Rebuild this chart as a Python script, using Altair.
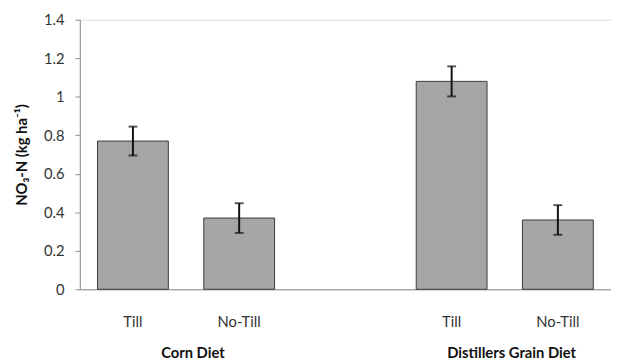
import altair as alt
import pandas as pd

# --- data ---
slots = ["c_till", "c_notill", "gap", "d_till", "d_notill"]
slot_labels = ["Till", "No-Till", "", "Till", "No-Till"]
bar_slots = ["c_till", "c_notill", "d_till", "d_notill"]
means = [0.77, 0.37, 1.08, 0.36]
errors = [0.075, 0.077, 0.078, 0.077]
groups = ["Corn Diet", "Distillers Grain Diet"]
group_slots = ["c_notill", "d_notill"]
y_ticks = [0, 0.2, 0.4, 0.6, 0.8, 1.0, 1.2, 1.4]

df = pd.DataFrame({"slot": bar_slots, "mean": means, "err": errors})
df["lo"] = df["mean"] - df["err"]
df["hi"] = df["mean"] + df["err"]
gdf = pd.DataFrame({"slot": group_slots, "group": groups})

label_expr = "".join(
    f"datum.value === '{s}' ? '{l}' : " for s, l in zip(slots, slot_labels)
) + "''"

FONT = "Lato"
FS = 15
W, H = 540, 274
AXIS_GREY = "#8c8c8c"

xscale = alt.Scale(domain=slots, paddingInner=1/3, paddingOuter=1/6)
yscale = alt.Scale(domain=[0, 1.4], nice=False)
yaxis = alt.Axis(title="NO₃-N (kg ha⁻¹)", values=y_ticks, format=".1~f",
                 grid=False, tickSize=5, tickColor=AXIS_GREY, domainColor=AXIS_GREY,
                 labelPadding=11, labelOverlap=False, labelColor="#333333",
                 labelFont=FONT, labelFontSize=FS, titleFont=FONT,
                 titleFontSize=FS, titleFontWeight="bold", titleColor="#111111",
                 titlePadding=14)
x = alt.X(
    "slot:N", sort=slots, scale=xscale,
    axis=alt.Axis(title=None, labelExpr=label_expr, labelAngle=0, ticks=False,
                  tickSize=0, labelPadding=26, domainColor=AXIS_GREY,
                  labelColor="#333333", labelFont=FONT, labelFontSize=FS),
)

base = alt.Chart(df)
bars = base.mark_bar(color="#a6a6a6", stroke="#3a3a3a", strokeWidth=1).encode(
    x=x, y=alt.Y("mean:Q", scale=yscale, axis=yaxis))
stems = base.mark_rule(color="#111111", strokeWidth=2).encode(
    x=alt.X("slot:N", sort=slots, scale=xscale),
    y=alt.Y("lo:Q", scale=yscale, axis=yaxis), y2="hi:Q")
caps = base.transform_fold(["lo", "hi"], as_=["k", "v"]).mark_tick(
    color="#111111", orient="horizontal", size=9, thickness=2
).encode(x=alt.X("slot:N", sort=slots, scale=xscale),
         y=alt.Y("v:Q", scale=yscale, axis=yaxis))
glabels = alt.Chart(gdf).mark_text(
    font=FONT, fontSize=FS, fontWeight="bold", color="#111111",
    baseline="alphabetic", align="center", dx=-11,
).encode(
    x=alt.X("slot:N", sort=slots, scale=xscale, bandPosition=0),
    y=alt.value(H + 70), text="group:N",
)

chart = alt.layer(bars, stems, caps, glabels).properties(
    width=W, height=H,
    autosize=alt.AutoSizeParams(type="none"),
    padding={"left": 73, "top": 9, "right": 0, "bottom": 73},
).configure_view(stroke=None).configure_axisY(labelOverlap=False).configure(
    background="white")

chart.save("out.html", embed_options={"renderer": "svg", "actions": False})
